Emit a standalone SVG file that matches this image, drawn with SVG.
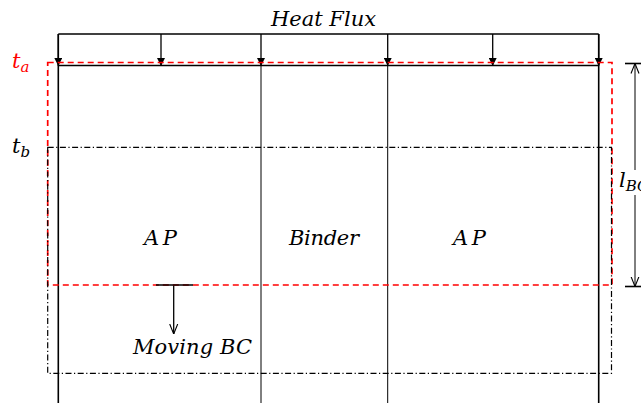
<svg xmlns="http://www.w3.org/2000/svg" width="641" height="403" viewBox="0 0 641 403">
<style>
text{font-family:'DejaVu Serif',serif;font-style:italic;font-size:21px;fill:#000}
.sub{font-size:15px}
.thick{stroke:#000;stroke-width:1.6;fill:none}
.thin{stroke:#000;stroke-width:1;fill:none}
.flux{stroke:#000;stroke-width:1.3;fill:none}
.red{stroke:#f00;stroke-width:1.7;fill:none;stroke-dasharray:6 4}
.dd{stroke:#000;stroke-width:1.2;fill:none;stroke-dasharray:6 2.5 1.2 2.5}
</style>
<defs>
<marker id="fa" viewBox="0 0 10 10" refX="10" refY="5" markerWidth="8" markerHeight="8" markerUnits="userSpaceOnUse" orient="auto">
<path d="M0,0 L10,5 L0,10 z" fill="#000"/>
</marker>
<marker id="oa" viewBox="0 0 10 10" refX="10" refY="5" markerWidth="10" markerHeight="10" markerUnits="userSpaceOnUse" orient="auto">
<path d="M0,1 L10,5 L0,9" fill="none" stroke="#000" stroke-width="1.1"/>
</marker>
</defs>
<g id="plate">
<line class="thick" x1="58" y1="65.5" x2="599" y2="65.5"/>
<line class="thick" x1="58.3" y1="34" x2="58.3" y2="403"/>
<line class="thick" x1="598.7" y1="34" x2="598.7" y2="403"/>
<line class="thin" x1="261" y1="66" x2="261" y2="403"/>
<line class="thin" x1="387.7" y1="66" x2="387.7" y2="403"/>
</g>
<g id="heatflux">
<line class="flux" x1="58.3" y1="34" x2="598.7" y2="34"/>
<text x="271" y="26" textLength="105" lengthAdjust="spacing">Heat Flux</text>
</g>
<g id="connectors">
<line class="flux" x1="58.3" y1="34" x2="58.3" y2="66" marker-end="url(#fa)"/>
<line class="flux" x1="161" y1="34" x2="161" y2="66" marker-end="url(#fa)"/>
<line class="flux" x1="261" y1="34" x2="261" y2="66" marker-end="url(#fa)"/>
<line class="flux" x1="387.7" y1="34" x2="387.7" y2="66" marker-end="url(#fa)"/>
<line class="flux" x1="492.7" y1="34" x2="492.7" y2="66" marker-end="url(#fa)"/>
<line class="flux" x1="598.7" y1="34" x2="598.7" y2="66" marker-end="url(#fa)"/>
<line class="flux" x1="173.7" y1="285" x2="173.7" y2="334" marker-end="url(#oa)"/>
<line class="thin" x1="635" y1="170" x2="635" y2="63.5" marker-end="url(#oa)"/>
<line class="thin" x1="635" y1="195" x2="635" y2="286.5" marker-end="url(#oa)"/>
</g>
<g id="ta-region">
<rect class="red" x="47.7" y="62.5" width="564.3" height="222.5"/>
<text x="12" y="68" style="fill:#f00">t<tspan class="sub" dy="4">a</tspan></text>
</g>
<g id="tb-region">
<rect class="dd" x="47.7" y="147.3" width="563.8" height="226"/>
<text x="12" y="153">t<tspan class="sub" dy="4">b</tspan></text>
</g>
<g id="ap-left"><text x="144" y="245" textLength="33" lengthAdjust="spacing">AP</text></g>
<g id="binder"><text x="289" y="245" textLength="70" lengthAdjust="spacing">Binder</text></g>
<g id="ap-right"><text x="453" y="245" textLength="33" lengthAdjust="spacing">AP</text></g>
<g id="moving-bc">
<line class="thick" x1="156" y1="285" x2="193" y2="285"/>
<text x="133" y="354" textLength="119" lengthAdjust="spacing">Moving BC</text>
</g>
<g id="lbc">
<line class="thick" x1="625" y1="63.5" x2="641" y2="63.5"/>
<line class="thick" x1="625" y1="286.5" x2="641" y2="286.5"/>
<text x="619" y="187">l<tspan class="sub" dy="4">BC</tspan></text>
</g>
</svg>
